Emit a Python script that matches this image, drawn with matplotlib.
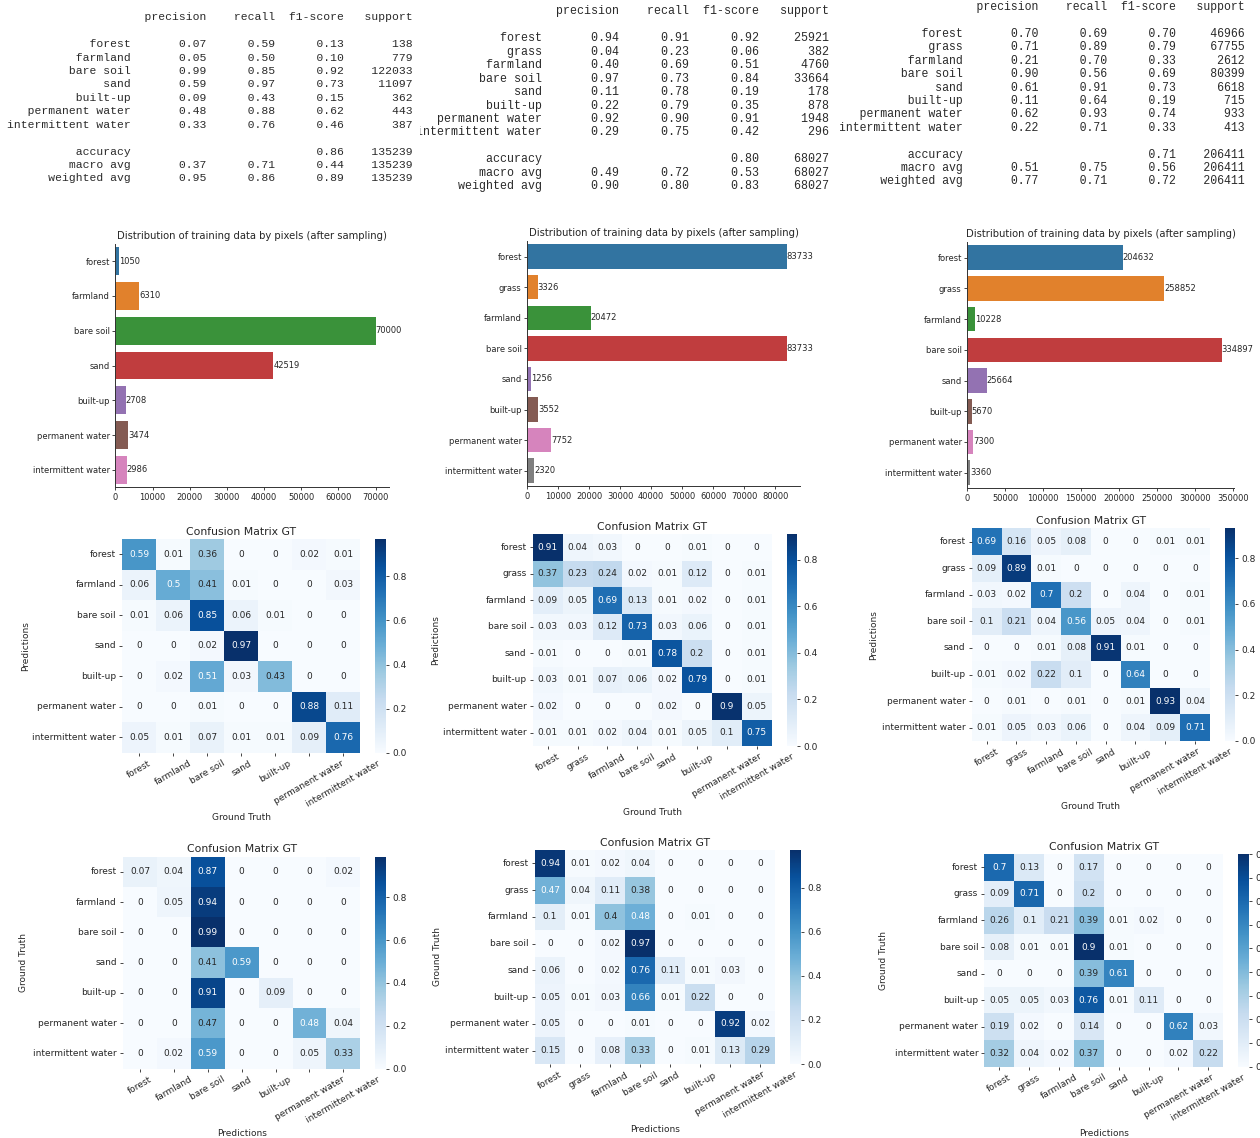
import matplotlib
matplotlib.use("Agg")
import matplotlib.pyplot as plt
import numpy as np
import seaborn as sns
from matplotlib.ticker import MultipleLocator, FormatStrFormatter

W, H, DPI = 1260, 1138, 100

# ---------------------------------------------------------------- class names
classes7 = ["forest", "farmland", "bare soil", "sand", "built-up",
            "permanent water", "intermittent water"]
classes8 = ["forest", "grass", "farmland", "bare soil", "sand", "built-up",
            "permanent water", "intermittent water"]

# ---------------------------------------------------------------- classification reports
report_a_scores = [[0.07, 0.59, 0.13], [0.05, 0.50, 0.10], [0.99, 0.85, 0.92],
                   [0.59, 0.97, 0.73], [0.09, 0.43, 0.15], [0.48, 0.88, 0.62],
                   [0.33, 0.76, 0.46]]
report_a_support = [138, 779, 122033, 11097, 362, 443, 387]
report_a_accuracy = 0.86
report_a_macro = [0.37, 0.71, 0.44]
report_a_weighted = [0.95, 0.86, 0.89]
report_a_total = 135239

report_b_scores = [[0.94, 0.91, 0.92], [0.04, 0.23, 0.06], [0.40, 0.69, 0.51],
                   [0.97, 0.73, 0.84], [0.11, 0.78, 0.19], [0.22, 0.79, 0.35],
                   [0.92, 0.90, 0.91], [0.29, 0.75, 0.42]]
report_b_support = [25921, 382, 4760, 33664, 178, 878, 1948, 296]
report_b_accuracy = 0.80
report_b_macro = [0.49, 0.72, 0.53]
report_b_weighted = [0.90, 0.80, 0.83]
report_b_total = 68027

report_c_scores = [[0.70, 0.69, 0.70], [0.71, 0.89, 0.79], [0.21, 0.70, 0.33],
                   [0.90, 0.56, 0.69], [0.61, 0.91, 0.73], [0.11, 0.64, 0.19],
                   [0.62, 0.93, 0.74], [0.22, 0.71, 0.33]]
report_c_support = [46966, 67755, 2612, 80399, 6618, 715, 933, 413]
report_c_accuracy = 0.71
report_c_macro = [0.51, 0.75, 0.56]
report_c_weighted = [0.77, 0.71, 0.72]
report_c_total = 206411

# ---------------------------------------------------------------- training pixel counts
pixels_a = [1050, 6310, 70000, 42519, 2708, 3474, 2986]
pixels_b = [83733, 3326, 20472, 83733, 1256, 3552, 7752, 2320]
pixels_c = [204632, 258852, 10228, 334897, 25664, 5670, 7300, 3360]

# ---------------------------------------------------------------- confusion matrices
cm_a_pred = [[0.59, 0.01, 0.36, 0, 0, 0.02, 0.01],
             [0.06, 0.5, 0.41, 0.01, 0, 0, 0.03],
             [0.01, 0.06, 0.85, 0.06, 0.01, 0, 0],
             [0, 0, 0.02, 0.97, 0, 0, 0],
             [0, 0.02, 0.51, 0.03, 0.43, 0, 0],
             [0, 0, 0.01, 0, 0, 0.88, 0.11],
             [0.05, 0.01, 0.07, 0.01, 0.01, 0.09, 0.76]]
cm_b_pred = [[0.91, 0.04, 0.03, 0, 0, 0.01, 0, 0],
             [0.37, 0.23, 0.24, 0.02, 0.01, 0.12, 0, 0.01],
             [0.09, 0.05, 0.69, 0.13, 0.01, 0.02, 0, 0.01],
             [0.03, 0.03, 0.12, 0.73, 0.03, 0.06, 0, 0.01],
             [0.01, 0, 0, 0.01, 0.78, 0.2, 0, 0.01],
             [0.03, 0.01, 0.07, 0.06, 0.02, 0.79, 0, 0.01],
             [0.02, 0, 0, 0, 0.02, 0, 0.9, 0.05],
             [0.01, 0.01, 0.02, 0.04, 0.01, 0.05, 0.1, 0.75]]
cm_c_pred = [[0.69, 0.16, 0.05, 0.08, 0, 0, 0.01, 0.01],
             [0.09, 0.89, 0.01, 0, 0, 0, 0, 0],
             [0.03, 0.02, 0.7, 0.2, 0, 0.04, 0, 0.01],
             [0.1, 0.21, 0.04, 0.56, 0.05, 0.04, 0, 0.01],
             [0, 0, 0.01, 0.08, 0.91, 0.01, 0, 0],
             [0.01, 0.02, 0.22, 0.1, 0, 0.64, 0, 0],
             [0, 0.01, 0, 0.01, 0, 0.01, 0.93, 0.04],
             [0.01, 0.05, 0.03, 0.06, 0, 0.04, 0.09, 0.71]]
cm_a_gt = [[0.07, 0.04, 0.87, 0, 0, 0, 0.02],
           [0, 0.05, 0.94, 0, 0, 0, 0],
           [0, 0, 0.99, 0, 0, 0, 0],
           [0, 0, 0.41, 0.59, 0, 0, 0],
           [0, 0, 0.91, 0, 0.09, 0, 0],
           [0, 0, 0.47, 0, 0, 0.48, 0.04],
           [0, 0.02, 0.59, 0, 0, 0.05, 0.33]]
cm_b_gt = [[0.94, 0.01, 0.02, 0.04, 0, 0, 0, 0],
           [0.47, 0.04, 0.11, 0.38, 0, 0, 0, 0],
           [0.1, 0.01, 0.4, 0.48, 0, 0.01, 0, 0],
           [0, 0, 0.02, 0.97, 0, 0, 0, 0],
           [0.06, 0, 0.02, 0.76, 0.11, 0.01, 0.03, 0],
           [0.05, 0.01, 0.03, 0.66, 0.01, 0.22, 0, 0],
           [0.05, 0, 0, 0.01, 0, 0, 0.92, 0.02],
           [0.15, 0, 0.08, 0.33, 0, 0.01, 0.13, 0.29]]
cm_c_gt = [[0.7, 0.13, 0, 0.17, 0, 0, 0, 0],
           [0.09, 0.71, 0, 0.2, 0, 0, 0, 0],
           [0.26, 0.1, 0.21, 0.39, 0.01, 0.02, 0, 0],
           [0.08, 0.01, 0.01, 0.9, 0.01, 0, 0, 0],
           [0, 0, 0, 0.39, 0.61, 0, 0, 0],
           [0.05, 0.05, 0.03, 0.76, 0.01, 0.11, 0, 0],
           [0.19, 0.02, 0, 0.14, 0, 0, 0.62, 0.03],
           [0.32, 0.04, 0.02, 0.37, 0, 0, 0.02, 0.22]]

TEXT = "#262626"
plt.rcParams["font.family"] = ["DejaVu Sans"]
plt.rcParams["text.color"] = TEXT
plt.rcParams["axes.labelcolor"] = TEXT
plt.rcParams["xtick.color"] = TEXT
plt.rcParams["ytick.color"] = TEXT

fig = plt.figure(figsize=(W / DPI, H / DPI), dpi=DPI)


def px_axes(left, top, width, height):
    """Axes placed by pixel box measured from the top-left corner."""
    return fig.add_axes([left / W, 1 - (top + height) / H, width / W, height / H])


# ---------------------------------------------------------------- text reports
def report_lines(names, scores, support, acc, macro, weighted, total):
    w = max(len(n) for n in names)
    heads = ["precision", "recall", "f1-score", "support"]
    lines = [f"{'':>{w}s} " + "".join(f" {h:>9}" for h in heads), ""]
    for n, s, sup in zip(names, scores, support):
        lines.append(f"{n:>{w}s} " + "".join(f" {v:>9.2f}" for v in s) + f" {sup:>9}")
    lines.append("")
    lines.append(f"{'accuracy':>{w}s} " + f" {'':>9} {'':>9} {acc:>9.2f} {total:>9}")
    for lab, s in (("macro avg", macro), ("weighted avg", weighted)):
        lines.append(f"{lab:>{w}s} " + "".join(f" {v:>9.2f}" for v in s) + f" {total:>9}")
    return lines


def draw_report(region_x, x0, y0, pitch, size, lines):
    ax = px_axes(region_x, 0, 420, 200)
    ax.set_xlim(region_x, region_x + 420)
    ax.set_ylim(200, 0)
    ax.axis("off")
    for i, line in enumerate(lines):
        if line:
            ax.text(x0, y0 + i * pitch, line, family="Liberation Mono", size=size,
                    color="#2a2a2a", ha="left", va="center", clip_on=True)


draw_report(0, 7.1, 17.3, 13.42, 8.2,
            report_lines(classes7, report_a_scores, report_a_support, report_a_accuracy,
                         report_a_macro, report_a_weighted, report_a_total))
draw_report(420, 415.9, 11.3, 13.46, 8.4,
            report_lines(classes8, report_b_scores, report_b_support, report_b_accuracy,
                         report_b_macro, report_b_weighted, report_b_total))
draw_report(840, 838.6, 7.2, 13.4, 8.3,
            report_lines(classes8, report_c_scores, report_c_support, report_c_accuracy,
                         report_c_macro, report_c_weighted, report_c_total))

# ---------------------------------------------------------------- bar charts
base_colors = plt.get_cmap("tab10").colors
bar_colors = [sns.desaturate(c, 0.75) for c in base_colors]


def bar_panel(box, labels, values, step):
    left, top, right, bottom = box
    ax = px_axes(left, top, right - left, bottom - top)
    y = np.arange(len(values))
    ax.barh(y, values, height=0.8, color=bar_colors[:len(values)])
    ax.set_ylim(len(values) - 0.5, -0.5)
    ax.set_xlim(0, max(values) * 1.05)
    ax.set_yticks(y, labels)
    ax.xaxis.set_major_locator(MultipleLocator(step))
    for yi, v in zip(y, values):
        ax.text(v, yi, str(v), ha="left", va="center", fontsize=6.0)
    for s in ("top", "right"):
        ax.spines[s].set_visible(False)
    for s in ("left", "bottom"):
        ax.spines[s].set_linewidth(0.7)
        ax.spines[s].set_color("#333333")
    ax.tick_params(labelsize=6.0, length=2.5, width=0.6, pad=1.5)
    ax.set_title("Distribution of training data by pixels (after sampling)",
                 fontsize=7.2, pad=3.6)


bar_panel((115.5, 243.6, 388.5, 487.4), classes7, pixels_a, 10000)
bar_panel((527.3, 241.4, 799.7, 486.0), classes8, pixels_b, 10000)
bar_panel((967.3, 242.3, 1234.4, 488.0), classes8, pixels_c, 50000)


# ---------------------------------------------------------------- confusion matrices
def cm_panel(box, labels, mat, ylabel, xlabel, cticks, xpad, ypad):
    left, top, right, bottom = box
    width, height = right - left, bottom - top
    ax = px_axes(left, top, width, height)
    cax = px_axes(right + 0.0625 * width, top, height / 20, height)
    sns.heatmap(np.array(mat), annot=True, cmap="Blues", ax=ax, cbar_ax=cax,
                xticklabels=labels, yticklabels=labels,
                annot_kws={"size": 6.5})
    ax.set_xticklabels(labels, rotation=30, ha="center", fontsize=6.5)
    ax.set_yticklabels(labels, rotation=0, va="center", fontsize=6.5)
    ax.tick_params(length=2.5, width=0.6, pad=2)
    ax.set_title("Confusion Matrix GT", fontsize=7.8, pad=3.0)
    ax.set_ylabel(ylabel, fontsize=6.5, labelpad=ypad)
    ax.set_xlabel(xlabel, fontsize=6.5, labelpad=xpad)
    cax.set_yticks(cticks)
    cax.yaxis.set_major_formatter(FormatStrFormatter("%.1f"))
    cax.tick_params(labelsize=6.5, length=2.5, width=0.6, pad=2)


ticks_02 = [0.0, 0.2, 0.4, 0.6, 0.8]
ticks_01 = [0.0, 0.1, 0.2, 0.3, 0.4, 0.5, 0.6, 0.7, 0.8, 0.9]

cm_panel((122.3, 539.0, 360.3, 752.6), classes7, cm_a_pred, "Predictions", "Ground Truth",
         ticks_02, 3.5, 1.5)
cm_panel((532.8, 534.0, 771.6, 746.0), classes8, cm_b_pred, "Predictions", "Ground Truth",
         ticks_02, 4.5, 2.0)
cm_panel((971.8, 528.4, 1209.9, 741.0), classes8, cm_c_pred, "Predictions", "Ground Truth",
         ticks_02, 3.5, 3.0)
cm_panel((123.0, 856.6, 360.3, 1068.5), classes7, cm_a_gt, "Ground Truth", "Predictions",
         ticks_02, 3.0, 4.0)
cm_panel((535.0, 850.0, 775.0, 1064.0), classes8, cm_b_gt, "Ground Truth", "Predictions",
         ticks_02, 4.0, 2.0)
cm_panel((984.4, 854.0, 1223.2, 1066.6), classes8, cm_c_gt, "Ground Truth", "Predictions",
         ticks_01, 4.5, 5.0)

fig.savefig("out.png", dpi=DPI, facecolor="white")
